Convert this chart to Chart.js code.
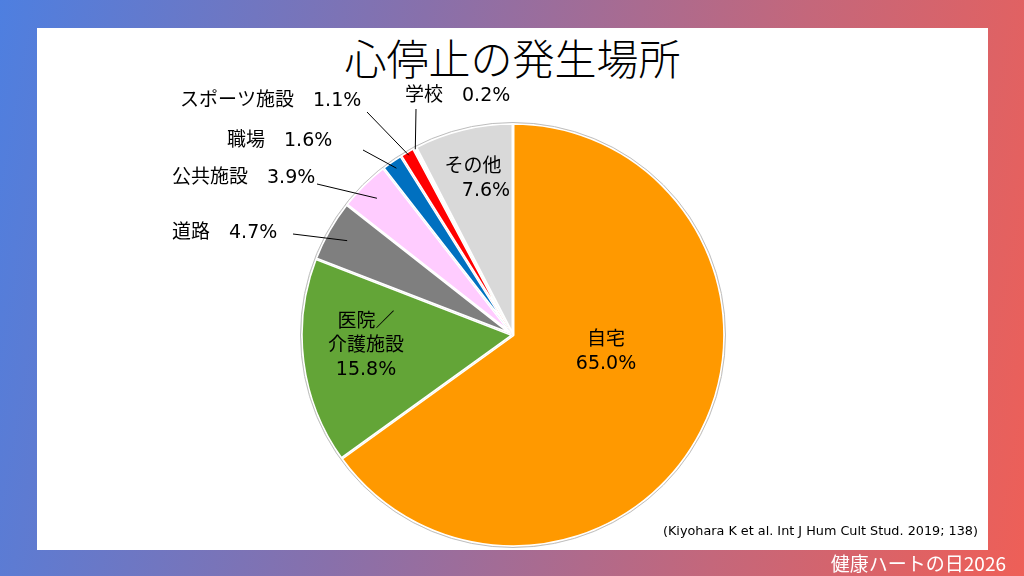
<!DOCTYPE html>
<html lang="ja">
<head>
<meta charset="utf-8">
<title>心停止の発生場所</title>
<script src="https://cdn.jsdelivr.net/npm/chart.js@4.4.1/dist/chart.umd.min.js"></script>
<style>
html, body { margin: 0; padding: 0; }
body {
    width: 1024px; height: 576px; overflow: hidden; position: relative;
    background: linear-gradient(100deg, #4e7fe0 0%, #8870ab 38%, #c4677b 72%, #ee5f57 100%);
    font-family: "DejaVu Sans", "Noto Sans CJK JP", sans-serif;
}
#panel { position: absolute; left: 37px; top: 28px; width: 951px; height: 522px; background: #fff; }
#title {
    position: absolute; left: 37px; width: 951px; top: 29px; text-align: center;
    font-family: "Noto Sans CJK JP", sans-serif; font-weight: 300; font-size: 42px; line-height: 56px; color: #000;
}
#source { position: absolute; right: 46px; top: 523px; font-size: 12.8px; color: #000; }
#brand { position: absolute; right: 18px; top: 550px; font-family: "Noto Sans CJK JP", sans-serif; font-size: 19px; line-height: 26px; color: #fff; }
#chart { position: absolute; left: 0; top: 0; }
</style>
</head>
<body>
<div id="panel"></div>
<div id="title">心停止の発生場所</div>
<canvas id="chart" width="1024" height="576"></canvas>
<div id="source">(Kiyohara K et al. Int J Hum Cult Stud. 2019; 138)</div>
<div id="brand">健康ハートの日2026</div>
<script>
// data (percent of cases), clockwise from 12 o'clock
var categories = ['自宅', '医院／介護施設', '道路', '公共施設', '職場', 'スポーツ施設', '学校', 'その他'];
var shares = [65.0, 15.8, 4.7, 3.9, 1.6, 1.1, 0.2, 7.6];
var sliceColors = ['#FF9900', '#63A537', '#7F7F7F', '#FFCCFF', '#0070C0', '#FF0000', '#92D050', '#D9D9D9'];

// label placement (text layout only)
var insideLabels = {
    0: {dx: 93, dy: 17, wrapAt: 0, shift: [0, 0]},
    1: {dx: -147, dy: 11, wrapAt: 3, shift: [0, 0]},
    7: {dx: -33, dy: -156, wrapAt: 0, shift: [-7, 6]}
};
var outsideLabels = {
    2: {x: 172, y: 233, lx: 293, ly: 234, frac: 0.90},
    3: {x: 172, y: 178, lx: 317, ly: 184, frac: 0.91},
    4: {x: 227, y: 141, lx: 363, ly: 150, frac: 0.96},
    5: {x: 180, y: 101, lx: 367, ly: 112, frac: 0.98},
    6: {x: 405, y: 96, lx: 416, ly: 109, frac: 0.99}
};

function pct(v) {
    return v.toFixed(1) + '%';
}

var pieLabels = {
    id: 'pieLabels',
    afterDatasetsDraw: function (chart) {
        var ctx = chart.ctx;
        var arcs = chart.getDatasetMeta(0).data;
        var cx = arcs[0].x, cy = arcs[0].y, r = arcs[0].outerRadius;

        // thin grey rim
        ctx.save();
        ctx.strokeStyle = '#bdbdbd';
        ctx.lineWidth = 1;
        ctx.beginPath();
        ctx.arc(cx, cy, r + 0.5, 0, Math.PI * 2);
        ctx.stroke();

        ctx.fillStyle = '#000';
        ctx.font = '19px "DejaVu Sans", "Noto Sans CJK JP", sans-serif';
        ctx.textBaseline = 'middle';

        Object.keys(insideLabels).forEach(function (key) {
            var i = +key, cfg = insideLabels[i];
            var name = categories[i];
            var lines = cfg.wrapAt ? [name.slice(0, cfg.wrapAt), name.slice(cfg.wrapAt)] : [name];
            lines.push(pct(shares[i]));
            var lh = 24;
            var top = cy + cfg.dy - (lines.length - 1) * lh / 2;
            ctx.textAlign = 'center';
            lines.forEach(function (t, k) {
                var s = cfg.shift[k] || 0;
                ctx.fillText(t, cx + cfg.dx + s, top + k * lh);
            });
        });

        Object.keys(outsideLabels).forEach(function (key) {
            var i = +key, cfg = outsideLabels[i];
            var arc = arcs[i];
            var mid = (arc.startAngle + arc.endAngle) / 2;
            var ex = cx + Math.cos(mid) * r * cfg.frac;
            var ey = cy + Math.sin(mid) * r * cfg.frac;
            ctx.textAlign = 'left';
            ctx.fillText(categories[i] + '\u3000' + pct(shares[i]), cfg.x, cfg.y);
            ctx.strokeStyle = '#000';
            ctx.lineWidth = 1;
            ctx.beginPath();
            ctx.moveTo(cfg.lx, cfg.ly);
            ctx.lineTo(ex, ey);
            ctx.stroke();
        });
        ctx.restore();
    }
};

var ctx = document.getElementById('chart').getContext('2d');
new Chart(ctx, {
    type: 'pie',
    data: {
        labels: categories,
        datasets: [{
            data: shares,
            backgroundColor: sliceColors,
            borderColor: '#ffffff',
            borderWidth: 1.5,
            borderAlign: 'inner',
            radius: 212
        }]
    },
    options: {
        responsive: false,
        animation: false,
        layout: {
            padding: {left: 301, right: 299, top: 123, bottom: 29}
        },
        plugins: {
            legend: {display: false},
            tooltip: {enabled: false},
            title: {display: false}
        }
    },
    plugins: [pieLabels]
});
</script>
</body>
</html>
